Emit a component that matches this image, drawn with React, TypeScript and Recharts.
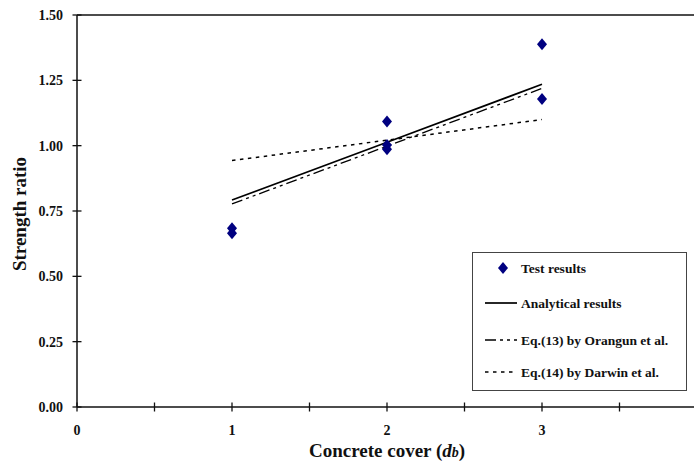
import { ComposedChart, Line, Scatter, XAxis, YAxis, ReferenceLine, Label } from "recharts";

// tick positions
const xTicks = [0, 0.5, 1, 1.5, 2, 2.5, 3, 3.5, 4];
const yTicks = [0, 0.25, 0.5, 0.75, 1, 1.25, 1.5];

// test results (concrete cover in db, strength ratio)
const testCover = [1, 1, 2, 2, 2, 3, 3];
const testRatio = [0.684, 0.665, 1.092, 1.003, 0.986, 1.388, 1.179];

// predicted lines
const lineCover = [1, 2, 3];
const analyticalRatio = [0.792, 1.013, 1.235];
const orangunRatio = [0.777, 0.998, 1.219];
const darwinRatio = [0.943, 1.021, 1.1];

const toPoints = (xs: number[], ys: number[]) => xs.map((x, i) => ({ x, y: ys[i] }));

const testData = toPoints(testCover, testRatio);
const analyticalData = toPoints(lineCover, analyticalRatio);
const orangunData = toPoints(lineCover, orangunRatio);
const darwinData = toPoints(lineCover, darwinRatio);

const FONT = "'Liberation Serif', 'Times New Roman', serif";
const AXIS = "#111";
const NAVY = "#000080";
const ORANGUN_DASH = "11 4 3 4 3 4";
const DARWIN_DASH = "3.5 4.5";

function Diamond(props: any) {
  const { cx, cy } = props;
  if (cx == null || cy == null) return null;
  return (
    <polygon
      points={`${cx},${cy - 6} ${cx + 5},${cy} ${cx},${cy + 6} ${cx - 5},${cy}`}
      fill={NAVY}
    />
  );
}

function XTick({ x, y, payload }: any) {
  const v = payload.value;
  return (
    <g>
      <line x1={x} x2={x} y1={y - 4.5} y2={y + 4.5} stroke={AXIS} strokeWidth={1.3} />
      {Number.isInteger(v) && v < 4 && (
        <text x={x} y={y + 28} textAnchor="middle" fontFamily={FONT} fontWeight="bold" fontSize={14} fill="#111">
          {v}
        </text>
      )}
    </g>
  );
}

function YTick({ x, y, payload }: any) {
  return (
    <g>
      <line x1={x - 4.5} x2={x + 4.5} y1={y} y2={y} stroke={AXIS} strokeWidth={1.3} />
      <text x={x - 14} y={y + 5} textAnchor="end" fontFamily={FONT} fontWeight="bold" fontSize={14} fill="#111">
        {payload.value.toFixed(2)}
      </text>
    </g>
  );
}

function XTitle({ viewBox }: any) {
  const cx = viewBox.x + viewBox.width / 2;
  return (
    <text x={cx} y={viewBox.y + 50} textAnchor="middle" fontFamily={FONT} fontWeight="bold" fontSize={19} fill="#111">
      Concrete cover (<tspan fontStyle="italic">d</tspan>
      <tspan fontStyle="italic" fontSize={14}>b</tspan>)
    </text>
  );
}

function YTitle({ viewBox }: any) {
  const cy = viewBox.y + viewBox.height / 2 + 3;
  return (
    <text
      transform={`translate(26,${cy}) rotate(-90)`}
      textAnchor="middle"
      fontFamily={FONT}
      fontWeight="bold"
      fontSize={19}
      fill="#111"
    >
      Strength ratio
    </text>
  );
}

const legendItems = [
  { label: "Test results", kind: "diamond" },
  { label: "Analytical results", kind: "solid" },
  { label: "Eq.(13) by Orangun et al.", kind: "orangun" },
  { label: "Eq.(14) by Darwin et al.", kind: "darwin" },
];
const legendRows = [16, 51, 88, 120];

function LegendBox() {
  return (
    <svg width={216} height={140} style={{ position: "absolute", left: 472, top: 252 }}>
      <rect x={0.5} y={0.5} width={214} height={138} fill="#fff" stroke="#444" strokeWidth={1} />
      {legendItems.map((item, i) => {
        const y = legendRows[i];
        let marker;
        if (item.kind === "diamond") {
          marker = <Diamond cx={31} cy={y} />;
        } else {
          const dash = item.kind === "orangun" ? ORANGUN_DASH : item.kind === "darwin" ? DARWIN_DASH : undefined;
          marker = (
            <line x1={13} x2={45} y1={y} y2={y} stroke="#000" strokeWidth={item.kind === "solid" ? 1.7 : 1.5} strokeDasharray={dash} />
          );
        }
        return (
          <g key={item.label}>
            {marker}
            <text x={49} y={y + 5} fontFamily={FONT} fontWeight="bold" fontSize={13.5} fill="#111">
              {item.label}
            </text>
          </g>
        );
      })}
    </svg>
  );
}

export default function App() {
  return (
    <div style={{ position: "absolute", left: 0, top: 0, width: 694, height: 466, overflow: "hidden", background: "#fff" }}>
      <ComposedChart width={700} height={466} margin={{ top: 15, right: 3, bottom: 0, left: 0 }}>
        <XAxis
          type="number"
          dataKey="x"
          domain={[0, 4]}
          ticks={xTicks}
          interval={0}
          height={59}
          tickSize={0}
          tickMargin={0}
          tickLine={false}
          tick={<XTick />}
          axisLine={{ stroke: AXIS, strokeWidth: 1.5 }}
        >
          <Label content={<XTitle />} />
        </XAxis>
        <YAxis
          type="number"
          domain={[0, 1.5]}
          ticks={yTicks}
          interval={0}
          width={77}
          tickSize={0}
          tickMargin={0}
          tickLine={false}
          tick={<YTick />}
          axisLine={{ stroke: AXIS, strokeWidth: 1.5 }}
        >
          <Label content={<YTitle />} />
        </YAxis>
        <ReferenceLine y={1.5} stroke={AXIS} strokeWidth={1.5} />
        <ReferenceLine x={4} stroke={AXIS} strokeWidth={1.5} />
        <Line data={darwinData} dataKey="y" type="linear" stroke="#000" strokeWidth={1.5} strokeDasharray={DARWIN_DASH} dot={false} isAnimationActive={false} />
        <Line data={orangunData} dataKey="y" type="linear" stroke="#000" strokeWidth={1.3} strokeDasharray={ORANGUN_DASH} dot={false} isAnimationActive={false} />
        <Line data={analyticalData} dataKey="y" type="linear" stroke="#000" strokeWidth={1.7} dot={false} isAnimationActive={false} />
        <Scatter data={testData} dataKey="y" shape={<Diamond />} isAnimationActive={false} />
      </ComposedChart>
      <LegendBox />
    </div>
  );
}
